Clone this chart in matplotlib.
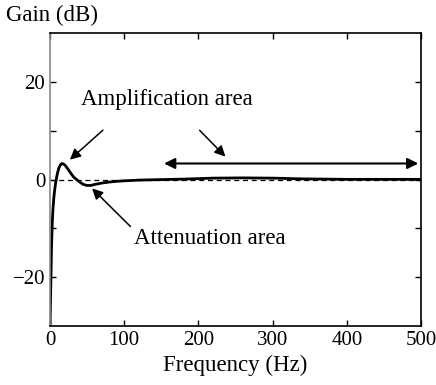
import matplotlib
matplotlib.use('Agg')
import matplotlib.pyplot as plt
import numpy as np

# gain curve
freq = [0, 1, 2, 3, 4, 5, 6, 7, 8, 10, 12, 14, 16, 18, 20, 24, 28, 32, 36, 40,
        45, 50, 55, 60, 70, 80, 90, 100, 120, 150, 180, 220, 260, 300, 340,
        400, 450, 500]
gain = [-30, -22, -14, -9, -6, -4, -2.5, -1.3, -0.3, 1.3, 2.4, 3.0, 3.3, 3.2,
        3.0, 2.2, 1.3, 0.5, 0.0, -0.5, -1.0, -1.2, -1.2, -1.0, -0.7, -0.5,
        -0.35, -0.25, -0.1, 0.0, 0.1, 0.3, 0.35, 0.3, 0.15, 0.05, 0.05, 0.05]

xticks = [0, 100, 200, 300, 400, 500]
yticks = [-20, 0, 20]
yminor = [-10, 10]

plt.rcParams['font.family'] = 'Liberation Serif'
fs = 16.5

fig = plt.figure(figsize=(4.36, 3.85), dpi=100)
ax = fig.add_axes([0.1147, 0.153, 0.851, 0.761])

ax.axhline(0, color='black', linestyle=(0, (4, 3)), linewidth=0.9)
ax.plot(freq, gain, color='black', linewidth=2)

ax.set_xlim(0, 500)
ax.set_ylim(-30, 30)
ax.set_xticks(xticks)
ax.set_yticks(yticks)
ax.set_yticks(yminor, minor=True)
ax.tick_params(which='both', direction='in', top=True, right=True,
               length=4, width=1, labelsize=15)
for s in ax.spines.values():
    s.set_linewidth(1.2)
ax.spines['left'].set_color('#888888')

arrow = dict(arrowstyle='-|>', color='black', lw=1.1, mutation_scale=16)

ax.text(158, 16.5, 'Amplification area', ha='center', va='center', fontsize=fs)
ax.annotate('', xy=(24, 3.7), xytext=(74, 10.5), arrowprops=arrow)
ax.annotate('', xy=(239, 4.3), xytext=(199, 10.5), arrowprops=arrow)
ax.annotate('', xy=(500, 3.3), xytext=(150, 3.3),
            arrowprops=dict(arrowstyle='<|-|>', color='black', lw=1.5,
                            mutation_scale=16))

ax.text(216, -12.1, 'Attenuation area', ha='center', va='center', fontsize=fs)
ax.annotate('', xy=(54, -1.4), xytext=(111, -10), arrowprops=arrow)

fig.text(6 / 436, 1 - 15 / 385, 'Gain (dB)', ha='left', va='center', fontsize=fs)
fig.text(235 / 436, 1 - 365 / 385, 'Frequency (Hz)', ha='center', va='center',
         fontsize=fs)

fig.savefig('out.png', dpi=100)
